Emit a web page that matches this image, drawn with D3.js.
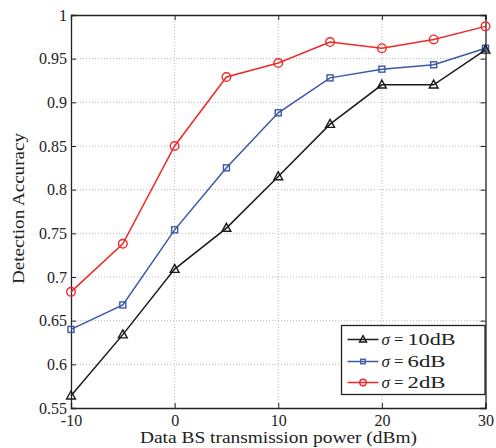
<!DOCTYPE html>
<html><head><meta charset="utf-8">
<script src="https://cdn.jsdelivr.net/npm/d3@7"></script>
<style>body{margin:0;background:#fff}svg{display:block}text{font-family:"Liberation Serif","Times New Roman",serif;fill:#222}</style>
</head><body><svg id="c" width="496" height="448"></svg>
<script>
const xVals = [-10, -5, 0, 5, 10, 15, 20, 25, 30];
const sigma10 = [0.564, 0.634, 0.709, 0.756, 0.815, 0.875, 0.920, 0.920, 0.960];
const sigma6  = [0.640, 0.668, 0.754, 0.825, 0.888, 0.928, 0.938, 0.943, 0.962];
const sigma2  = [0.683, 0.738, 0.850, 0.929, 0.945, 0.969, 0.962, 0.972, 0.987];
const xTicks = [-10, 0, 10, 20, 30];
const yTicks = [0.55, 0.6, 0.65, 0.7, 0.75, 0.8, 0.85, 0.9, 0.95, 1];
const seriesNames = ["10dB", "6dB", "2dB"];

const svg = d3.select("#c");
const L = 71, R = 485.5, T = 15, B = 408;
const x = d3.scaleLinear().domain([-10, 30]).range([L, R]);
const y = d3.scaleLinear().domain([0.55, 1]).range([B, T]);

// grid
const g = svg.append("g");
g.selectAll(".gx").data(xTicks.slice(1, -1)).enter().append("line")
  .attr("x1", d => x(d)).attr("x2", d => x(d)).attr("y1", T).attr("y2", B)
  .attr("stroke", "#b8b8b8").attr("stroke-width", 1).attr("stroke-dasharray", "1,2");
g.selectAll(".gy").data(yTicks.slice(1, -1)).enter().append("line")
  .attr("y1", d => y(d)).attr("y2", d => y(d)).attr("x1", L).attr("x2", R)
  .attr("stroke", "#b8b8b8").attr("stroke-width", 1).attr("stroke-dasharray", "1,2");

// axes
const fmt = d => d3.format("")(+d.toFixed(2));
const ax = svg.append("g").attr("transform", `translate(0,${B})`)
  .call(d3.axisBottom(x).tickValues(xTicks).tickSize(-5).tickPadding(7).tickFormat(d => d));
const axT = svg.append("g").attr("transform", `translate(0,${T})`)
  .call(d3.axisTop(x).tickValues(xTicks).tickSize(-5).tickFormat(""));
const ay = svg.append("g").attr("transform", `translate(${L},0)`)
  .call(d3.axisLeft(y).tickValues(yTicks).tickSize(-5).tickPadding(4).tickFormat(fmt));
const ayR = svg.append("g").attr("transform", `translate(${R},0)`)
  .call(d3.axisRight(y).tickValues(yTicks).tickSize(-5).tickFormat(""));
[ax, axT, ay, ayR].forEach(a => {
  a.select(".domain").attr("stroke", "#222").attr("stroke-width", 1.3);
  a.selectAll(".tick line").attr("stroke", "#222");
  a.selectAll("text").style("font-size", "16px").attr("fill", "#222");
});
ax.selectAll("text").attr("dy", "0.71em");

// labels
svg.append("text").attr("x", 140).attr("y", 443)
  .attr("textLength", 277).attr("lengthAdjust", "spacingAndGlyphs")
  .style("font-size", "16px").text("Data BS transmission power (dBm)");
svg.append("text").attr("transform", `translate(24,284) rotate(-90)`)
  .attr("textLength", 151).attr("lengthAdjust", "spacingAndGlyphs")
  .style("font-size", "17px").text("Detection Accuracy");

const colors = ["#1a1a1a", "#3a58a8", "#f02828"];
const data = [sigma10, sigma6, sigma2];
const line = d3.line().x((d, i) => x(xVals[i])).y(d => y(d));

function marker(sel, k, cx, cy, s) {
  if (k === 0) {
    const h = 8 * s;
    sel.append("path").attr("d", `M${cx},${cy - h * 0.6} L${cx + h * 0.55},${cy + h * 0.4} L${cx - h * 0.55},${cy + h * 0.4} Z`)
      .attr("fill", "none").attr("stroke", colors[k]).attr("stroke-width", 1.4);
  } else if (k === 1) {
    const a = 6 * s;
    sel.append("rect").attr("x", cx - a / 2).attr("y", cy - a / 2).attr("width", a).attr("height", a)
      .attr("fill", "none").attr("stroke", colors[k]).attr("stroke-width", 1.4);
  } else {
    sel.append("circle").attr("cx", cx).attr("cy", cy).attr("r", 4.3 * s)
      .attr("fill", "none").attr("stroke", colors[k]).attr("stroke-width", 1.4);
  }
}

[2, 1, 0].forEach(k => {
  const gg = svg.append("g");
  gg.append("path").datum(data[k]).attr("d", line).attr("fill", "none")
    .attr("stroke", colors[k]).attr("stroke-width", 1.5);
  data[k].forEach((v, i) => marker(gg, k, x(xVals[i]), y(v), 1));
});

// legend
const lg = svg.append("g");
lg.append("rect").attr("x", 341.5).attr("y", 325.5).attr("width", 143.5).attr("height", 69)
  .attr("fill", "#fff").attr("stroke", "#222").attr("stroke-width", 1.3);
const rowsY = [339.5, 361.5, 382.5];
const unitW = [48, 38, 38];
seriesNames.forEach((n, k) => {
  lg.append("line").attr("x1", 347.5).attr("x2", 378.5).attr("y1", rowsY[k]).attr("y2", rowsY[k])
    .attr("stroke", colors[k]).attr("stroke-width", 1.5);
  marker(lg, k, 363, rowsY[k], k === 0 ? 0.8 : 0.75);
  const ty = rowsY[k] + 5.5;
  lg.append("text").attr("x", 381.5).attr("y", ty).style("font-size", "17px").style("font-style", "italic").text("σ");
  lg.append("text").attr("x", 394).attr("y", ty).attr("textLength", 9.5).attr("lengthAdjust", "spacingAndGlyphs")
    .style("font-size", "17px").text("=");
  lg.append("text").attr("x", 407.5).attr("y", ty).attr("textLength", unitW[k]).attr("lengthAdjust", "spacingAndGlyphs")
    .style("font-size", "17px").text(n);
});
</script></body></html>
